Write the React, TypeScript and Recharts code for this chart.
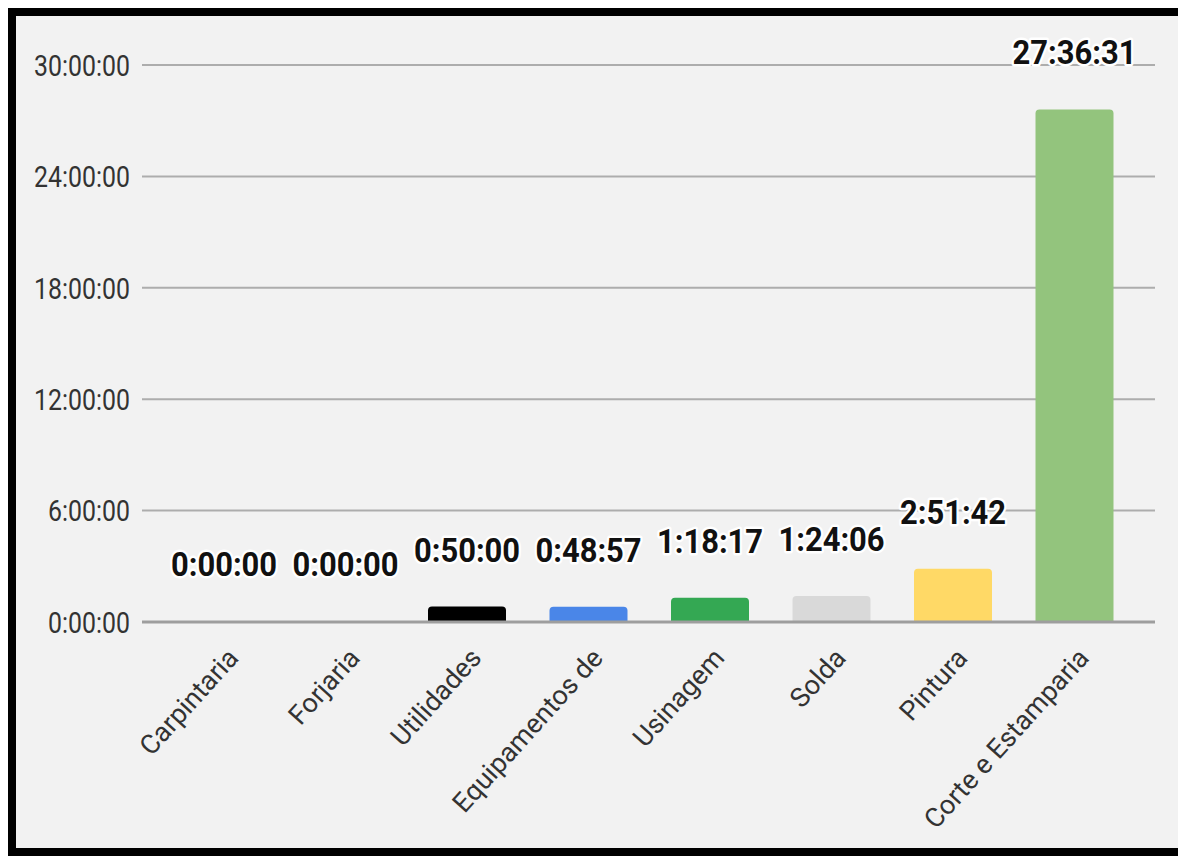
import React from "react";
import { BarChart, Bar, XAxis, YAxis, CartesianGrid, Cell, LabelList } from "recharts";

const categories = [
  "Carpintaria",
  "Forjaria",
  "Utilidades",
  "Equipamentos de",
  "Usinagem",
  "Solda",
  "Pintura",
  "Corte e Estamparia",
];
const durations = ["0:00:00", "0:00:00", "0:50:00", "0:48:57", "1:18:17", "1:24:06", "2:51:42", "27:36:31"];
const barColors = ["#9e9e9e", "#9e9e9e", "#000000", "#4a86e8", "#34a853", "#d9d9d9", "#ffd966", "#93c47d"];
const yTicks = [0, 6, 12, 18, 24, 30];

// "h:mm:ss" -> hours
const toHours = (s: string) => {
  const [h, m, sec] = s.split(":").map(Number);
  return h + m / 60 + sec / 3600;
};

const data = categories.map((name, i) => ({
  name,
  label: durations[i],
  hours: toHours(durations[i]),
}));

const FONT = "Roboto, 'Noto Sans', sans-serif";

// eslint-disable-next-line @typescript-eslint/no-explicit-any
const YTick = ({ x, y, payload }: any) => (
  <g transform={`translate(${x},${y}) scale(0.83,1)`}>
    <text textAnchor="end" dy="0.36em" fill="#333" fontSize={30} fontFamily={FONT}>
      {`${payload.value}:00:00`}
    </text>
  </g>
);

// eslint-disable-next-line @typescript-eslint/no-explicit-any
const XTick = ({ x, y, payload }: any) => (
  <g transform={`translate(${x + 16},${y + 37}) rotate(-48)`}>
    <text textAnchor="end" fill="#333" fontSize={27} fontFamily={FONT}>
      {payload.value}
    </text>
  </g>
);

// eslint-disable-next-line @typescript-eslint/no-explicit-any
const ValueLabel = ({ x, y, width, value }: any) => {
  const cx = Number(x) + Number(width) / 2;
  const top = Number(y);
  return (
    <g transform={`translate(${cx},${top - 45}) scale(0.91,1)`}>
      <text
        textAnchor="middle"
        fill="#111"
        stroke="#ffffff"
        strokeWidth={5}
        paintOrder="stroke"
        strokeLinejoin="round"
        fontSize={34}
        fontWeight="bold"
        fontFamily={FONT}
      >
        {value}
      </text>
    </g>
  );
};

export default function App() {
  return (
    <div
      style={{
        width: 1162,
        height: 832,
        border: "8px solid #000",
        background: "#f2f2f2",
        fontFamily: FONT,
      }}
    >
      <BarChart width={1162} height={832} data={data} margin={{ top: 49, right: 23, bottom: 0, left: 0 }}>
        <CartesianGrid vertical={false} stroke="#adadad" strokeWidth={2} />
        <XAxis
          dataKey="name"
          interval={0}
          height={226}
          padding={{ left: 21, right: 20 }}
          tickLine={false}
          tickSize={0}
          tickMargin={0}
          axisLine={{ stroke: "#9e9e9e", strokeWidth: 3 }}
          tick={<XTick />}
        />
        <YAxis
          type="number"
          width={126}
          domain={[0, 30]}
          ticks={yTicks}
          axisLine={false}
          tickLine={false}
          tickSize={0}
          tickMargin={12}
          tick={<YTick />}
        />
        <Bar dataKey="hours" barSize={78} radius={[4, 4, 0, 0]} minPointSize={1} isAnimationActive={false}>
          {data.map((d, i) => (
            <Cell key={`cell-${i}`} fill={barColors[i]} />
          ))}
          <LabelList dataKey="label" content={<ValueLabel />} />
        </Bar>
      </BarChart>
    </div>
  );
}
